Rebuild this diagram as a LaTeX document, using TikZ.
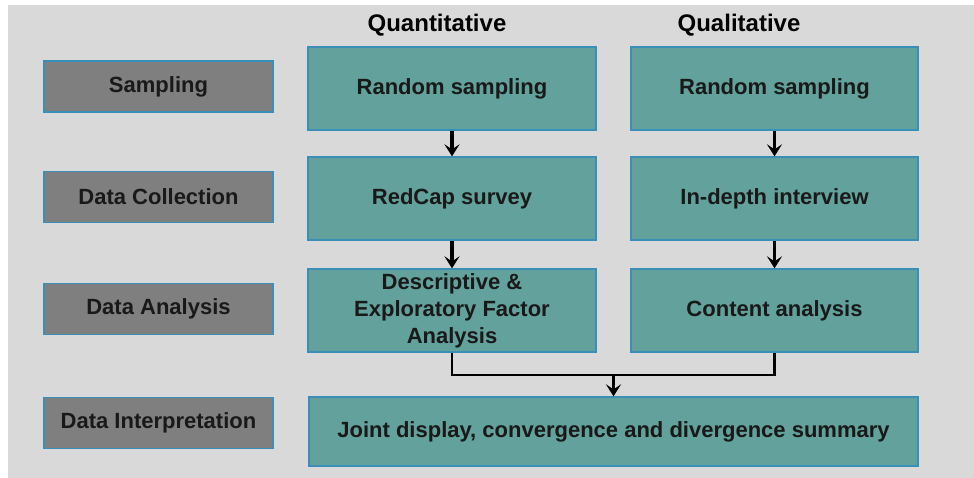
\documentclass[tikz,border=0pt]{standalone}
\usepackage{fontspec}
\setmainfont{Liberation Sans}
\usetikzlibrary{arrows.meta}

\definecolor{panelgray}{HTML}{D9D9D9}
\definecolor{stagegray}{HTML}{7F7F7F}
\definecolor{methodteal}{HTML}{62A19C}
\definecolor{edgeblue}{HTML}{3A8FB7}

\begin{document}
\begin{tikzpicture}[x=1pt,y=-1pt,
	stagebox/.style={draw=edgeblue,line width=1.3pt,fill=stagegray,minimum width=229pt,minimum height=51pt,inner sep=0pt,font=\fontsize{22}{27}\selectfont\bfseries,text=black!90},
	methodbox/.style={draw=edgeblue,line width=1.3pt,fill=methodteal,minimum height=83pt,inner sep=0pt,align=center,font=\fontsize{22}{27}\selectfont\bfseries,text=black!90},
	flowarrow/.style={line width=#1,-{Stealth[length=12pt,width=15pt,inset=5pt]}},
	flowarrow/.default=3pt]
	\useasboundingbox (0,0) rectangle (974,478);
	\fill [panelgray] (8,5) rectangle (974,478);
	\node [font=\fontsize{24}{28}\selectfont\bfseries] (quanttitle) at (437,25) {Quantitative};
	\node [font=\fontsize{24}{28}\selectfont\bfseries] (qualtitle) at (739,25) {Qualitative};
	\node [stagebox] (samp) at (158.5,86.5) {Sampling};
	\node [stagebox] (coll) at (158.5,197) {Data Collection};
	\node [stagebox] (anal) at (158.5,309) {Data Analysis};
	\node [stagebox] (interp) at (158.5,423) {Data Interpretation};
	\node [methodbox,minimum width=288pt] (quantsamp) at (452,88.5) {Random sampling};
	\node [methodbox,minimum width=288pt] (quantcoll) at (452,198.5) {RedCap survey};
	\node [methodbox,minimum width=288pt] (quantanal) at (452,310.5) {Descriptive \&\\Exploratory Factor\\Analysis};
	\node [methodbox,minimum width=287pt] (qualsamp) at (774.5,88.5) {Random sampling};
	\node [methodbox,minimum width=287pt] (qualcoll) at (774.5,198.5) {In-depth interview};
	\node [methodbox,minimum width=287pt] (qualanal) at (774.5,310.5) {Content analysis};
	\node [methodbox,minimum width=609pt,minimum height=69pt] (joint) at (613.5,431.5) {Joint display, convergence and divergence summary};
	\draw [flowarrow=4pt] (quantsamp) -- (quantcoll);
	\draw [flowarrow=4pt] (quantcoll) -- (quantanal);
	\draw [flowarrow=2.5pt] (qualsamp) -- (qualcoll);
	\draw [flowarrow=2.5pt] (qualcoll) -- (qualanal);
	\coordinate (merge) at (613.5,375);
	\draw [line width=2.5pt] (quantanal.south) |- (merge) -| (qualanal.south);
	\draw [flowarrow=2.5pt] (merge) -- (joint.north);
\end{tikzpicture}
\end{document}
